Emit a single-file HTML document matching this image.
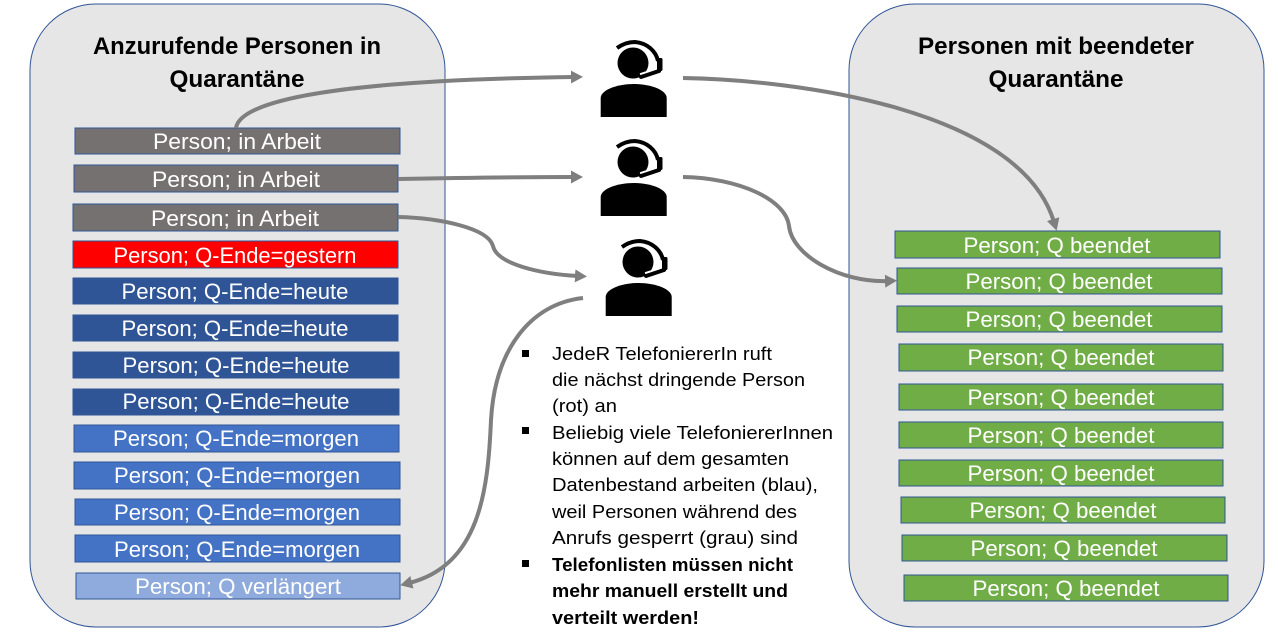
<!DOCTYPE html>
<html><head><meta charset="utf-8"><style>
html,body{margin:0;padding:0;background:#fff}
svg{display:block}
text{font-family:"Liberation Sans",sans-serif}
.r{stroke:#2f5597;stroke-width:1}
.l{fill:#fff;font-size:22px;text-anchor:middle}
.h{fill:#000;font-size:24px;font-weight:bold;text-anchor:middle}
.t{fill:#000;font-size:18.5px}
.a{fill:none;stroke:#7f7f7f;stroke-width:4}
</style></head><body>
<svg width="1278" height="643" viewBox="0 0 1278 643" xmlns="http://www.w3.org/2000/svg">
<defs>
<marker id="m" markerUnits="userSpaceOnUse" markerWidth="16" markerHeight="16" refX="3" refY="6.5" orient="auto"><path d="M0 0L12 6.5L0 13Z" fill="#7f7f7f"/></marker>
<g id="p">
<circle cx="0" cy="23" r="15.5"/>
<path d="M-32.3 77V58C-32.3 50-16 44 0.7 44S33.7 50 33.7 58V77Z"/>
<path d="M-16 8C-9 3-3 2 2 2C14 3 23 11 25 21" fill="none" stroke="#000" stroke-width="4"/>
<path d="M8 37L14 35" fill="none" stroke="#fff" stroke-width="8"/>
<path d="M8 37L26 31" fill="none" stroke="#000" stroke-width="4" stroke-linecap="round"/>
<rect x="24" y="18" width="5.5" height="13" rx="1.5"/>
</g>
</defs>
<rect x="30" y="4" width="415" height="623" rx="66" fill="#e7e6e6" stroke="#2f5597"/>
<rect x="849" y="4" width="415" height="623" rx="66" fill="#e7e6e6" stroke="#2f5597"/>
<text class="h" x="237" y="54" textLength="288" lengthAdjust="spacingAndGlyphs">Anzurufende Personen in</text>
<text class="h" x="237" y="87" textLength="135" lengthAdjust="spacingAndGlyphs">Quarantäne</text>
<text class="h" x="1056" y="54" textLength="276" lengthAdjust="spacingAndGlyphs">Personen mit beendeter</text>
<text class="h" x="1056" y="87" textLength="135" lengthAdjust="spacingAndGlyphs">Quarantäne</text>

<g class="r">
<rect x="75" y="128" width="325" height="26" fill="#767171"/>
<rect x="74" y="165" width="324" height="27" fill="#767171"/>
<rect x="73" y="204" width="325" height="27" fill="#767171"/>
<rect x="73" y="241" width="325" height="27" fill="#ff0000"/>
<rect x="73" y="278" width="325" height="26" fill="#2f5597"/>
<rect x="73" y="315" width="325" height="26" fill="#2f5597"/>
<rect x="73" y="352" width="326" height="26" fill="#2f5597"/>
<rect x="73" y="389" width="326" height="26" fill="#2f5597"/>
<rect x="74" y="425" width="325" height="27" fill="#4472c4"/>
<rect x="74" y="462" width="326" height="27" fill="#4472c4"/>
<rect x="75" y="499" width="325" height="26" fill="#4472c4"/>
<rect x="75" y="535" width="325" height="27" fill="#4472c4"/>
<rect x="76" y="573" width="324" height="26" fill="#8faadc"/>
<rect x="895" y="231" width="325" height="27" fill="#70ad47"/>
<rect x="897" y="268" width="325" height="26" fill="#70ad47"/>
<rect x="897" y="306" width="325" height="26" fill="#70ad47"/>
<rect x="899" y="344" width="324" height="27" fill="#70ad47"/>
<rect x="899" y="384" width="324" height="26" fill="#70ad47"/>
<rect x="899" y="422" width="324" height="26" fill="#70ad47"/>
<rect x="899" y="460" width="324" height="26" fill="#70ad47"/>
<rect x="901" y="497" width="324" height="26" fill="#70ad47"/>
<rect x="902" y="535" width="325" height="26" fill="#70ad47"/>
<rect x="904" y="575" width="324" height="26" fill="#70ad47"/>
</g>

<g class="l">
<text x="237" y="149" textLength="168" lengthAdjust="spacingAndGlyphs">Person; in Arbeit</text>
<text x="236" y="187" textLength="168" lengthAdjust="spacingAndGlyphs">Person; in Arbeit</text>
<text x="235" y="226" textLength="168" lengthAdjust="spacingAndGlyphs">Person; in Arbeit</text>
<text x="235" y="263" textLength="243" lengthAdjust="spacingAndGlyphs">Person; Q-Ende=gestern</text>
<text x="235" y="299" textLength="227" lengthAdjust="spacingAndGlyphs">Person; Q-Ende=heute</text>
<text x="235" y="336" textLength="227" lengthAdjust="spacingAndGlyphs">Person; Q-Ende=heute</text>
<text x="236" y="373" textLength="227" lengthAdjust="spacingAndGlyphs">Person; Q-Ende=heute</text>
<text x="236" y="409" textLength="227" lengthAdjust="spacingAndGlyphs">Person; Q-Ende=heute</text>
<text x="236" y="446" textLength="246" lengthAdjust="spacingAndGlyphs">Person; Q-Ende=morgen</text>
<text x="237" y="483" textLength="246" lengthAdjust="spacingAndGlyphs">Person; Q-Ende=morgen</text>
<text x="237" y="520" textLength="246" lengthAdjust="spacingAndGlyphs">Person; Q-Ende=morgen</text>
<text x="237" y="557" textLength="246" lengthAdjust="spacingAndGlyphs">Person; Q-Ende=morgen</text>
<text x="238" y="594" textLength="206" lengthAdjust="spacingAndGlyphs">Person; Q verlängert</text>
<text x="1057" y="253" textLength="187" lengthAdjust="spacingAndGlyphs">Person; Q beendet</text>
<text x="1059" y="289" textLength="187" lengthAdjust="spacingAndGlyphs">Person; Q beendet</text>
<text x="1059" y="327" textLength="187" lengthAdjust="spacingAndGlyphs">Person; Q beendet</text>
<text x="1061" y="365" textLength="187" lengthAdjust="spacingAndGlyphs">Person; Q beendet</text>
<text x="1061" y="405" textLength="187" lengthAdjust="spacingAndGlyphs">Person; Q beendet</text>
<text x="1061" y="443" textLength="187" lengthAdjust="spacingAndGlyphs">Person; Q beendet</text>
<text x="1061" y="481" textLength="187" lengthAdjust="spacingAndGlyphs">Person; Q beendet</text>
<text x="1063" y="518" textLength="187" lengthAdjust="spacingAndGlyphs">Person; Q beendet</text>
<text x="1064" y="556" textLength="187" lengthAdjust="spacingAndGlyphs">Person; Q beendet</text>
<text x="1066" y="596" textLength="187" lengthAdjust="spacingAndGlyphs">Person; Q beendet</text>
</g>

<use href="#p" x="633" y="40"/>
<use href="#p" x="633" y="139"/>
<use href="#p" x="638" y="239"/>

<path class="a" marker-end="url(#m)" d="M236 128C240 100 340 80 574 77"/>
<path class="a" marker-end="url(#m)" d="M398 179C450 178 520 177 574 177"/>
<path class="a" marker-end="url(#m)" d="M398 217C440 218 488 228 493 246C497 264 540 274 578 276"/>
<path class="a" marker-end="url(#m)" d="M683 78C800 80 1020 110 1054 222"/>
<path class="a" marker-end="url(#m)" d="M683 177C740 178 786 200 789 226C792 255 840 283 888 281"/>
<path class="a" marker-end="url(#m)" d="M583 298C530 304 495 350 491 420C488 490 480 565 409 583"/>

<g fill="#000">
<rect x="522" y="350" width="7" height="7"/>
<rect x="522" y="427" width="7" height="7"/>
<rect x="522" y="560" width="7" height="7"/>
</g>
<g class="t">
<text x="552" y="360" textLength="220" lengthAdjust="spacingAndGlyphs">JedeR TelefoniererIn ruft</text>
<text x="552" y="386" textLength="253" lengthAdjust="spacingAndGlyphs">die nächst dringende Person</text>
<text x="552" y="412" textLength="65" lengthAdjust="spacingAndGlyphs">(rot) an</text>
<text x="552" y="439" textLength="281" lengthAdjust="spacingAndGlyphs">Beliebig viele TelefoniererInnen</text>
<text x="552" y="465" textLength="237" lengthAdjust="spacingAndGlyphs">können auf dem gesamten</text>
<text x="552" y="491" textLength="266" lengthAdjust="spacingAndGlyphs">Datenbestand arbeiten (blau),</text>
<text x="552" y="518" textLength="245" lengthAdjust="spacingAndGlyphs">weil Personen während des</text>
<text x="552" y="544" textLength="246" lengthAdjust="spacingAndGlyphs">Anrufs gesperrt (grau) sind</text>
<text x="552" y="571" textLength="241" lengthAdjust="spacingAndGlyphs" font-weight="bold">Telefonlisten müssen nicht</text>
<text x="552" y="597" textLength="236" lengthAdjust="spacingAndGlyphs" font-weight="bold">mehr manuell erstellt und</text>
<text x="552" y="624" textLength="147" lengthAdjust="spacingAndGlyphs" font-weight="bold">verteilt werden!</text>
</g>
</svg>
</body></html>
